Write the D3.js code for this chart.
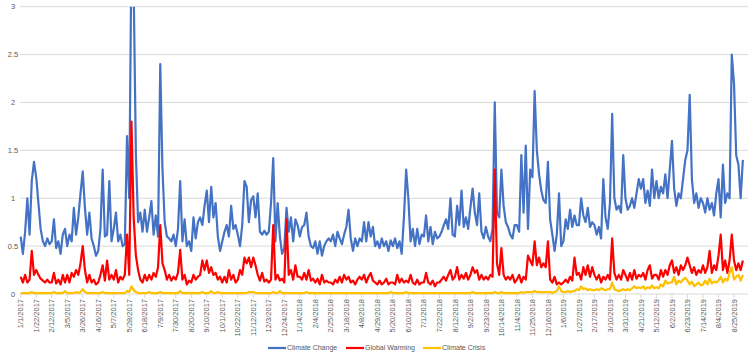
<!DOCTYPE html>
<html><head><meta charset="utf-8">
<script src="https://cdn.jsdelivr.net/npm/d3@7"></script>
<style>
html,body{margin:0;padding:0;background:#fff;}
svg{display:block;}
text{font-family:"Liberation Sans",Arial,sans-serif;fill:#595959;}
</style></head>
<body>
<svg id="chart" width="750" height="357"></svg>
<script>
// Start date and spacing of samples (every 3 days)
const startDate = "2017-01-01";
const stepDays = 3;
const seriesNames = ["Climate Change", "Global Warming", "Climate Crisis"];
const yTicks = [0, 0.5, 1, 1.5, 2, 2.5, 3];
const xTickLabels = ["1/1/2017","1/22/2017","2/12/2017","3/5/2017","3/26/2017","4/16/2017","5/7/2017","5/28/2017","6/18/2017","7/9/2017","7/30/2017","8/20/2017","9/10/2017","10/1/2017","10/22/2017","11/12/2017","12/3/2017","12/24/2017","1/14/2018","2/4/2018","2/25/2018","3/18/2018","4/8/2018","4/29/2018","5/20/2018","6/10/2018","7/1/2018","7/22/2018","8/12/2018","9/2/2018","9/23/2018","10/14/2018","11/4/2018","11/25/2018","12/16/2018","1/6/2019","1/27/2019","2/17/2019","3/10/2019","3/31/2019","4/21/2019","5/12/2019","6/2/2019","6/23/2019","7/14/2019","8/4/2019","8/25/2019"];

const climateChange = [
0.6,0.42,0.65,1.0,0.62,1.18,1.38,
1.22,0.95,0.68,0.55,0.5,0.58,0.52,
0.55,0.78,0.48,0.55,0.42,0.62,0.68,
0.5,0.62,0.55,0.9,0.62,0.8,1.05,
1.28,0.9,0.62,0.85,0.58,0.5,0.4,
0.45,0.68,1.3,0.6,0.62,1.18,0.55,
0.68,0.85,0.55,0.62,0.5,0.52,1.65,
1.0,3.6,3.2,1.45,0.75,0.85,0.65,
0.88,0.65,0.8,0.97,0.62,0.82,0.6,
2.4,1.3,0.75,0.6,0.58,0.55,0.62,
0.5,0.68,1.18,0.55,0.78,0.5,0.55,
0.45,0.8,0.58,0.75,0.8,0.72,0.92,
1.08,0.75,1.12,0.8,0.95,0.6,0.45,
0.55,0.65,0.72,0.6,0.92,0.68,0.72,
0.62,0.5,0.72,1.18,1.12,0.75,0.98,
1.02,0.8,1.05,0.65,0.62,0.66,0.62,
0.65,0.95,1.42,0.55,0.95,0.6,0.42,
0.48,0.9,0.65,0.8,0.55,0.78,0.72,
0.6,0.7,0.72,0.85,0.6,0.5,0.48,
0.55,0.42,0.55,0.4,0.5,0.55,0.58,
0.55,0.62,0.5,0.65,0.58,0.52,0.62,
0.7,0.88,0.58,0.45,0.58,0.5,0.58,
0.55,0.75,0.55,0.75,0.6,0.7,0.5,
0.55,0.48,0.58,0.5,0.55,0.45,0.56,
0.5,0.58,0.48,0.55,0.42,0.8,1.3,
1.0,0.55,0.68,0.5,0.68,0.52,0.62,
0.6,0.82,0.55,0.7,0.52,0.65,0.58,
0.6,0.65,0.72,0.78,0.68,1.0,0.62,
0.6,0.92,0.72,1.08,0.7,0.8,0.68,
0.9,1.1,0.85,0.72,1.05,0.65,0.58,
0.7,0.6,0.55,0.68,2.0,0.85,0.8,
1.3,0.92,0.75,0.7,0.62,0.58,0.72,
0.72,0.65,1.45,0.85,1.55,0.68,1.3,
1.22,2.12,1.5,1.25,1.08,0.98,0.95,
1.38,0.78,0.62,0.45,0.62,1.05,0.5,
0.55,0.78,0.68,0.88,0.7,0.82,0.72,
0.72,1.0,0.82,0.75,0.9,0.7,0.75,
0.72,0.62,0.7,0.58,1.2,0.8,0.68,
0.95,1.88,1.0,0.88,0.92,0.85,1.45,
1.0,0.88,0.92,1.0,0.9,1.05,1.2,
1.1,1.2,0.95,1.08,0.92,1.3,1.0,
1.18,1.0,1.12,1.05,1.25,1.0,1.3,
1.6,1.1,0.92,1.05,1.0,1.2,1.4,
1.5,2.08,1.2,0.95,1.05,0.9,1.0,
0.95,0.85,1.0,0.88,0.95,0.82,1.05,
1.2,0.8,1.35,0.95,1.05,1.0,2.5,
2.2,1.45,1.35,1.0,1.4];

const globalWarming = [
0.18,0.12,0.2,0.12,0.15,0.45,0.2,
0.25,0.2,0.16,0.14,0.12,0.15,0.12,
0.12,0.22,0.11,0.15,0.1,0.2,0.12,
0.2,0.12,0.22,0.18,0.25,0.2,0.32,
0.5,0.25,0.12,0.2,0.12,0.15,0.1,
0.12,0.2,0.3,0.14,0.35,0.15,0.2,
0.15,0.25,0.12,0.18,0.15,0.2,0.62,
0.2,1.8,0.8,0.4,0.25,0.15,0.12,
0.2,0.14,0.2,0.15,0.22,0.18,0.28,
0.72,0.32,0.25,0.15,0.2,0.14,0.18,
0.15,0.22,0.46,0.15,0.2,0.1,0.14,
0.12,0.2,0.15,0.18,0.2,0.35,0.25,
0.35,0.22,0.28,0.2,0.22,0.15,0.18,
0.12,0.18,0.12,0.25,0.15,0.2,0.12,
0.15,0.25,0.2,0.38,0.32,0.38,0.28,
0.38,0.3,0.2,0.14,0.22,0.13,0.15,
0.12,0.15,0.72,0.15,0.2,0.14,0.16,
0.12,0.78,0.2,0.25,0.15,0.3,0.18,
0.18,0.15,0.22,0.15,0.25,0.14,0.16,
0.12,0.16,0.1,0.2,0.12,0.14,0.12,
0.12,0.1,0.15,0.12,0.18,0.12,0.2,
0.15,0.18,0.12,0.14,0.1,0.15,0.18,
0.15,0.2,0.12,0.18,0.22,0.14,0.12,
0.1,0.14,0.1,0.12,0.16,0.1,0.12,
0.12,0.1,0.2,0.12,0.16,0.12,0.14,
0.12,0.2,0.12,0.1,0.15,0.1,0.12,
0.12,0.22,0.12,0.1,0.14,0.08,0.12,
0.12,0.15,0.18,0.14,0.2,0.25,0.15,
0.18,0.28,0.15,0.2,0.16,0.22,0.15,
0.2,0.28,0.22,0.25,0.15,0.2,0.15,
0.18,0.15,0.2,0.18,1.3,0.32,0.2,
0.48,0.2,0.15,0.18,0.15,0.2,0.12,
0.15,0.2,0.12,0.18,0.15,0.4,0.35,
0.3,0.55,0.3,0.38,0.28,0.32,0.28,
0.55,0.15,0.12,0.18,0.1,0.12,0.1,
0.12,0.15,0.12,0.18,0.14,0.38,0.2,
0.22,0.15,0.28,0.2,0.3,0.18,0.28,
0.2,0.15,0.2,0.12,0.18,0.15,0.2,
0.15,0.58,0.22,0.15,0.2,0.15,0.25,
0.2,0.14,0.22,0.15,0.25,0.16,0.2,
0.18,0.22,0.15,0.25,0.3,0.16,0.2,
0.2,0.15,0.25,0.18,0.25,0.2,0.3,
0.35,0.22,0.28,0.2,0.3,0.25,0.3,
0.38,0.3,0.22,0.28,0.2,0.25,0.22,
0.3,0.22,0.28,0.45,0.22,0.3,0.25,
0.4,0.62,0.25,0.35,0.22,0.35,0.62,
0.35,0.25,0.32,0.25,0.35];

const climateCrisis = [
.01,.01,.01,.01,.01,.02,.01,
.01,.01,.01,.01,.01,.01,.01,
.01,.02,.01,.01,.01,.01,.03,
.01,.01,.01,.01,.02,.01,.02,
.05,.02,.01,.01,.01,.01,.01,
.01,.01,.02,.01,.01,.01,.01,
.01,.01,.01,.01,.01,.01,.03,
.02,.08,.04,.02,.01,.01,.01,
.01,.01,.02,.01,.01,.01,.01,
.02,.01,.01,.01,.01,.01,.01,
.01,.01,.03,.01,.01,.01,.01,
.01,.01,.01,.01,.01,.02,.01,
.01,.01,.03,.01,.01,.02,.01,
.01,.01,.01,.01,.01,.01,.01,
.01,.01,.01,.01,.01,.02,.02,
.02,.01,.01,.01,.01,.01,.01,
.01,.01,.02,.01,.01,.03,.01,
.01,.01,.01,.01,.01,.01,.01,
.01,.01,.01,.02,.01,.01,.01,
.01,.01,.01,.01,.01,.01,.01,
.01,.01,.01,.01,.01,.01,.01,
.01,.01,.01,.01,.01,.01,.01,
.01,.01,.01,.01,.01,.01,.01,
.01,.01,.01,.01,.01,.01,.02,
.01,.01,.01,.01,.01,.01,.02,
.01,.01,.01,.01,.01,.01,.01,
.01,.01,.01,.01,.01,.01,.01,
.01,.01,.01,.01,.01,.01,.01,
.01,.01,.01,.01,.01,.01,.01,
.01,.02,.01,.01,.01,.01,.01,
.01,.01,.01,.01,.02,.01,.01,
.02,.01,.01,.01,.01,.01,.01,
.01,.01,.02,.01,.02,.02,.02,
.02,.03,.02,.02,.02,.02,.02,
.02,.02,.01,.02,.03,.08,.03,
.02,.02,.03,.02,.03,.03,.05,
.04,.08,.05,.06,.04,.05,.04,
.04,.05,.04,.06,.05,.04,.05,
.05,.12,.05,.04,.03,.04,.05,
.04,.05,.04,.06,.08,.06,.07,
.06,.08,.05,.07,.06,.09,.06,
.07,.06,.10,.08,.14,.11,.12,
.12,.18,.10,.14,.12,.15,.17,
.14,.10,.13,.08,.10,.12,.09,
.10,.14,.10,.16,.11,.13,.12,
.14,.18,.12,.16,.14,.22,.28,
.15,.18,.20,.14,.20];

const colors = ["#4472C4", "#FF0000", "#FFC000"];

const svg = d3.select("#chart");
const parse = d3.timeParse("%Y-%m-%d");
const labelParse = d3.timeParse("%m/%d/%Y");
const t0 = parse(startDate);
const dateAt = i => d3.timeDay.offset(t0, i * stepDays);

const left = 20.7, right = 734;
const x = d3.scaleTime()
  .domain([t0, labelParse("8/25/2019")])
  .range([left, right]);
const y = d3.scaleLinear().domain([0, 3]).range([294, 6.7]);

// gridlines
svg.append("g").selectAll("line").data(yTicks).join("line")
  .attr("x1", 20).attr("x2", 748)
  .attr("y1", d => y(d)).attr("y2", d => y(d))
  .attr("stroke", "#d9d9d9").attr("stroke-width", 1);

// y labels
svg.append("g").selectAll("text").data(yTicks).join("text")
  .attr("x", 13).attr("y", d => y(d)).attr("dy", "0.35em")
  .attr("text-anchor", "middle").attr("font-size", "7.5px")
  .text(d => d3.format("")(d));

// x ticks and labels
const xDates = xTickLabels.map(labelParse);
svg.append("g").selectAll("line").data(xDates).join("line")
  .attr("x1", d => x(d)).attr("x2", d => x(d))
  .attr("y1", 294).attr("y2", 298)
  .attr("stroke", "#d9d9d9");
svg.append("g").selectAll("text").data(xTickLabels).join("text")
  .attr("transform", d => `translate(${x(labelParse(d))},299) rotate(-90)`)
  .attr("dy", "0.35em").attr("text-anchor", "end")
  .attr("font-size", "7.5px")
  .text(d => d);

// clip
svg.append("clipPath").attr("id", "plotclip").append("rect")
  .attr("x", 0).attr("y", y(3)).attr("width", 750).attr("height", 294 - y(3) + 2);

const line = d3.line().x((d, i) => x(dateAt(i))).y(d => y(d)).curve(d3.curveLinear);
const allSeries = [climateChange, globalWarming, climateCrisis];
svg.append("g").attr("clip-path", "url(#plotclip)")
  .selectAll("path").data(allSeries).join("path")
  .attr("d", d => line(d))
  .attr("fill", "none")
  .attr("stroke", (d, i) => colors[i])
  .attr("stroke-width", 2.2)
  .attr("stroke-linejoin", "round");

// legend
const legendX = [268, 346, 423];
const lg = svg.append("g");
seriesNames.forEach((n, i) => {
  lg.append("line").attr("x1", legendX[i]).attr("x2", legendX[i] + 18)
    .attr("y1", 348).attr("y2", 348)
    .attr("stroke", colors[i]).attr("stroke-width", 2.2);
  lg.append("text").attr("x", legendX[i] + 19).attr("y", 348).attr("dy", "0.35em")
    .attr("font-size", "7px").text(n);
});
</script>
</body></html>
